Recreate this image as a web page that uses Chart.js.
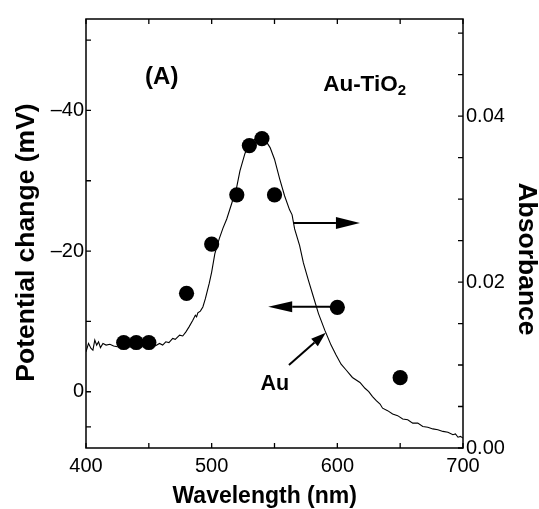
<!DOCTYPE html>
<html><head><meta charset="utf-8">
<script src="https://cdn.jsdelivr.net/npm/chart.js@4/dist/chart.umd.min.js"></script>
<style>html,body{margin:0;padding:0;background:#fff;}#wrap{width:539px;height:509px;}</style>
</head><body><div id="wrap"><canvas id="c" width="539" height="509"></canvas></div>
<script>
// ---- Data ----
const spectrumWavelength = [400,402,404,405.5,407,408.5,410,411.5,413.5,416,419,422,425,430,435,440,445,450,455,458.5,461,463.5,466,469,471,474.5,477,479.5,482,485,487,488,489,491,493,495,498,500,502.5,506,509,512,516,520,522.5,526.5,529,533,537,541,544,546.5,550,554,558,562,564,566,570,573,577,581,585,590,595,599,603,607,612,618,622,625,628,631,634,636,640,644,648,652,656,660,664,668,672,676,680,684,688,692,694,696,698,700];
const spectrumAbsorbance = [0.0116,0.0126,0.0120,0.0118,0.0130,0.0124,0.0128,0.0121,0.0126,0.0124,0.0125,0.0123,0.0122,0.0121,0.0122,0.0121,0.0122,0.0122,0.0123,0.0126,0.0124,0.0128,0.0127,0.0132,0.0131,0.0136,0.0135,0.0140,0.0146,0.0154,0.0160,0.0158,0.0163,0.0165,0.0170,0.0180,0.0198,0.0212,0.0234,0.0252,0.0265,0.0276,0.0295,0.0315,0.0334,0.0355,0.0364,0.0371,0.0374,0.0372,0.0368,0.0362,0.0348,0.0325,0.0304,0.0287,0.0281,0.0264,0.0244,0.0223,0.0202,0.0182,0.0162,0.0142,0.0124,0.0112,0.0101,0.0094,0.0085,0.0079,0.0072,0.0068,0.0062,0.0057,0.0053,0.0048,0.0045,0.0041,0.0039,0.0035,0.0034,0.0030,0.0030,0.0026,0.0025,0.0023,0.0022,0.0020,0.0019,0.0016,0.0017,0.0013,0.0014,0.0012];
const pointWavelength = [430,440,450,480,500,520,530,540,550,600,650];
const potentialChange = [-7,-7,-7,-14,-21,-28,-35,-36,-28,-12,-2];

const xTickValues = [400,450,500,550,600,650,700];
const xTickLabels = ['400','','500','','600','','700'];
const leftTickValues = [-50,-40,-30,-20,-10,0,5];
const leftTickLabels = ['','\u201340','','\u201320','','0',''];
const rightTickValues = [0,0.005,0.01,0.015,0.02,0.025,0.03,0.035,0.04,0.045,0.05];
const rightTickLabels = ['0.00','','','','0.02','','','','0.04','',''];

// annotations in data units (x: nm, y: mV on left axis)
const arrows = [
  {from:[565,-24], to:[618,-24], head:24, half:6},
  {from:[600,-12.1], to:[545,-12.1], head:24, half:5.5},
  {from:[561.5,-3.8], to:[590.8,-8.4], head:15, half:5}
];
const labels = [
  {text:'(A)', x:447, y:-43.7, size:24},
  {text:'Au-TiO', sub:'2', x:588.7, y:-42.7, size:22.5},
  {text:'Au', x:538.8, y:-0.3, size:21.5}
];

const TICK_FONT = "'Liberation Sans',Arial,sans-serif";
const BOLD_FONT = "'Liberation Sans',Arial,sans-serif";

function setTicks(values){ return function(scale){ scale.ticks = values.map(v=>({value:v})); }; }

const decor = {
  id:'decor',
  afterDraw(chart){
    const {ctx, chartArea:a, scales} = chart;
    const sx = scales.x, sy = scales.y, sy2 = scales.y2;
    ctx.save();
    ctx.strokeStyle = '#000'; ctx.fillStyle = '#000';
    ctx.lineWidth = 1.5;
    ctx.strokeRect(a.left, a.top, a.right-a.left, a.bottom-a.top);
    ctx.lineWidth = 1.3;
    const L = 5;
    ctx.beginPath();
    sx.ticks.forEach(t=>{const p=sx.getPixelForValue(t.value); ctx.moveTo(p,a.bottom); ctx.lineTo(p,a.bottom-L); ctx.moveTo(p,a.top); ctx.lineTo(p,a.top+L);});
    sy.ticks.forEach(t=>{const p=sy.getPixelForValue(t.value); ctx.moveTo(a.left,p); ctx.lineTo(a.left+L,p);});
    sy2.ticks.forEach(t=>{const p=sy2.getPixelForValue(t.value); ctx.moveTo(a.right,p); ctx.lineTo(a.right-L,p);});
    ctx.stroke();

    // arrows
    arrows.forEach(ar=>{
      const x1=sx.getPixelForValue(ar.from[0]), y1=sy.getPixelForValue(ar.from[1]);
      const x2=sx.getPixelForValue(ar.to[0]), y2=sy.getPixelForValue(ar.to[1]);
      const ang=Math.atan2(y2-y1,x2-x1);
      const bx=x2-Math.cos(ang)*ar.head, by=y2-Math.sin(ang)*ar.head;
      ctx.lineWidth=2;
      ctx.beginPath(); ctx.moveTo(x1,y1); ctx.lineTo(bx,by); ctx.stroke();
      ctx.beginPath();
      ctx.moveTo(x2,y2);
      ctx.lineTo(bx+Math.sin(ang)*ar.half, by-Math.cos(ang)*ar.half);
      ctx.lineTo(bx-Math.sin(ang)*ar.half, by+Math.cos(ang)*ar.half);
      ctx.closePath(); ctx.fill();
    });

    // text labels
    ctx.textBaseline='alphabetic'; ctx.textAlign='left';
    labels.forEach(lb=>{
      const px=sx.getPixelForValue(lb.x), py=sy.getPixelForValue(lb.y);
      ctx.font = 'bold '+lb.size+'px '+BOLD_FONT;
      ctx.fillText(lb.text, px, py);
      if(lb.sub){
        const w=ctx.measureText(lb.text).width;
        ctx.font = 'bold '+Math.round(lb.size*0.68)+'px '+BOLD_FONT;
        ctx.fillText(lb.sub, px+w, py+4);
      }
    });

    // axis titles
    ctx.font = 'bold 23px '+BOLD_FONT;
    ctx.textAlign='center'; ctx.textBaseline='alphabetic';
    ctx.fillText('Wavelength (nm)', 264.7, 503);
    ctx.font = 'bold 26.5px '+BOLD_FONT;
    ctx.save(); ctx.translate(33.5,242.5); ctx.rotate(-Math.PI/2); ctx.fillText('Potential change (mV)',0,0); ctx.restore();
    ctx.save(); ctx.translate(519,259); ctx.rotate(Math.PI/2); ctx.fillText('Absorbance',0,0); ctx.restore();
    ctx.restore();
  }
};

new Chart(document.getElementById('c'), {
  type:'scatter',
  data:{
    datasets:[
      {label:'Potential change', data:pointWavelength.map((x,i)=>({x, y:potentialChange[i]})),
       xAxisID:'x', yAxisID:'y', pointRadius:7.6, pointHoverRadius:7.6, backgroundColor:'#000', borderColor:'#000', borderWidth:0, order:0},
      {label:'Absorbance', data:spectrumWavelength.map((x,i)=>({x, y:spectrumAbsorbance[i]})),
       xAxisID:'x', yAxisID:'y2', showLine:true, pointRadius:0, borderColor:'#000', borderWidth:1.1, tension:0, order:1}
    ]
  },
  options:{
    responsive:false, animation:false, devicePixelRatio:1,
    layout:{padding:{top:19, left:0, right:0, bottom:0}},
    plugins:{legend:{display:false}, tooltip:{enabled:false}},
    scales:{
      x:{type:'linear', position:'bottom', min:400, max:700,
         afterBuildTicks:setTicks(xTickValues),
         afterFit(s){ s.height = 61; },
         grid:{display:false, drawTicks:false}, border:{display:false},
         ticks:{padding:6, color:'#000', font:{family:TICK_FONT, size:20}, maxRotation:0, autoSkip:false,
           callback:(v)=>xTickLabels[xTickValues.indexOf(v)] ?? ''}},
      y:{type:'linear', position:'left', min:-53, max:8, reverse:true,
         afterBuildTicks:setTicks(leftTickValues),
         afterFit(s){ s.width = 86; },
         grid:{display:false, drawTicks:false}, border:{display:false},
         ticks:{padding:2, color:'#000', font:{family:TICK_FONT, size:20}, autoSkip:false,
           callback:(v)=>leftTickLabels[leftTickValues.indexOf(v)] ?? ''}},
      y2:{type:'linear', position:'right', min:0, max:0.0517,
         afterBuildTicks:setTicks(rightTickValues),
         afterFit(s){ s.width = 76; },
         grid:{display:false, drawTicks:false}, border:{display:false},
         ticks:{padding:3, color:'#000', font:{family:TICK_FONT, size:20}, autoSkip:false,
           callback:(v)=>{const i=rightTickValues.findIndex(r=>Math.abs(r-v)<1e-9); return i>=0?rightTickLabels[i]:'';}}}
    }
  },
  plugins:[decor]
});
</script></body></html>
